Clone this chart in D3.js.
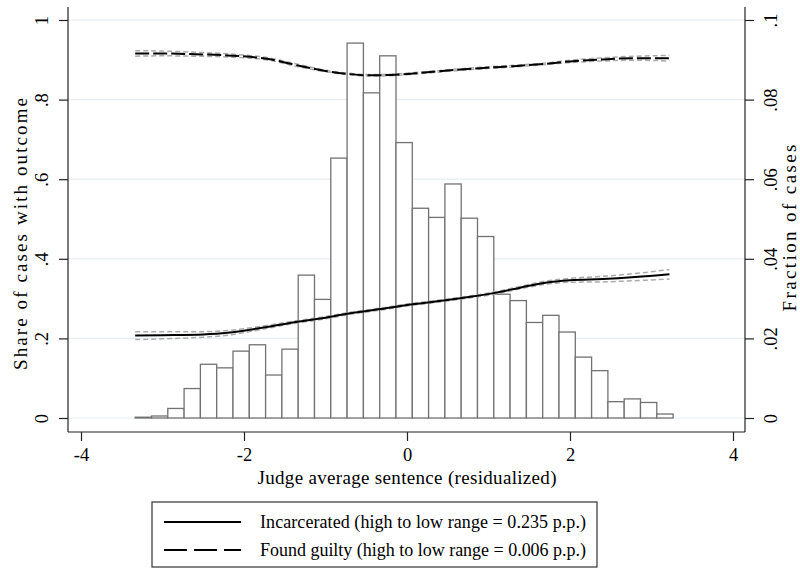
<!DOCTYPE html>
<html>
<head>
<meta charset="utf-8">
<script src="https://cdn.jsdelivr.net/npm/d3@7"></script>
<style>
  html, body { margin: 0; padding: 0; background: #fff; }
  svg { display: block; }
  text { font-family: "Liberation Serif", "Times New Roman", serif; fill: #000; }
</style>
</head>
<body>
<svg id="chart" width="800" height="572"></svg>
<script>
// ---------- data ----------
const binStarts = [-3.335,-3.135,-2.935,-2.735,-2.535,-2.335,-2.135,-1.935,-1.735,-1.535,-1.335,-1.135,-0.935,-0.735,-0.535,-0.335,-0.135,0.065,0.265,0.465,0.665,0.865,1.065,1.265,1.465,1.665,1.865,2.065,2.265,2.465,2.665,2.865,3.065];
const binWidth = 0.2;
const fraction = [0.0002,0.0005,0.0024,0.0074,0.0135,0.0126,0.0168,0.0184,0.0108,0.0173,0.0359,0.0298,0.0653,0.0942,0.0817,0.0910,0.0692,0.0527,0.0504,0.0588,0.0502,0.0456,0.0311,0.0295,0.0240,0.0258,0.0216,0.0153,0.0119,0.0041,0.0048,0.0039,0.0010];

const incX  = [-3.335,-3.0,-2.5,-2.2,-1.8,-1.4,-1.0,-0.7,-0.35,0.0,0.4,0.8,1.1,1.4,1.7,2.0,2.4,2.8,3.22];
const incY  = [0.207,0.208,0.210,0.214,0.226,0.240,0.252,0.263,0.273,0.284,0.294,0.305,0.315,0.328,0.340,0.346,0.349,0.354,0.361];
const incHi = [0.217,0.217,0.217,0.220,0.230,0.243,0.255,0.2655,0.2755,0.2865,0.2965,0.3075,0.318,0.331,0.344,0.351,0.356,0.363,0.373];
const incLo = [0.197,0.199,0.203,0.208,0.222,0.237,0.249,0.2605,0.2705,0.2815,0.2915,0.3025,0.312,0.325,0.336,0.341,0.342,0.345,0.349];

const gX  = [-3.335,-3.0,-2.6,-2.2,-1.7,-1.3,-1.0,-0.7,-0.45,-0.2,0.1,0.5,0.9,1.3,1.7,2.0,2.4,2.8,3.22];
const gY  = [0.916,0.916,0.914,0.911,0.902,0.884,0.872,0.864,0.861,0.862,0.866,0.873,0.879,0.884,0.890,0.896,0.901,0.904,0.904];
const gHi = [0.923,0.922,0.919,0.915,0.905,0.887,0.874,0.866,0.863,0.864,0.868,0.875,0.881,0.886,0.892,0.899,0.905,0.909,0.911];
const gLo = [0.909,0.910,0.909,0.907,0.899,0.881,0.870,0.862,0.859,0.860,0.864,0.871,0.877,0.882,0.888,0.893,0.897,0.899,0.897];

const xTicks = [-4,-2,0,2,4];
const xTickLabels = ["-4","-2","0","2","4"];
const yLeftTicks = [0,0.2,0.4,0.6,0.8,1];
const yLeftLabels = ["0",".2",".4",".6",".8","1"];
const yRightTicks = [0,0.02,0.04,0.06,0.08,0.1];
const yRightLabels = ["0",".02",".04",".06",".08",".1"];

const legendLabels = ["Incarcerated (high to low range = 0.235 p.p.)","Found guilty (high to low range = 0.006 p.p.)"];

// ---------- layout ----------
const svg = d3.select("#chart");
const plotL = 68, plotR = 745, plotT = 7, plotB = 432;
const x = d3.scaleLinear().domain([-4,4]).range([81,733]);
const yL = d3.scaleLinear().domain([0,1]).range([418,20]);
const yR = d3.scaleLinear().domain([0,0.1]).range([418,20]);

// gridlines
svg.append("g").selectAll("line").data(yLeftTicks).join("line")
  .attr("x1", plotL).attr("x2", plotR)
  .attr("y1", d => yL(d)).attr("y2", d => yL(d))
  .attr("stroke", "#e6edf1").attr("stroke-width", 1.2);

// histogram
svg.append("g").selectAll("rect").data(fraction).join("rect")
  .attr("x", (d,i) => x(binStarts[i]))
  .attr("width", (d,i) => x(binStarts[i] + binWidth) - x(binStarts[i]))
  .attr("y", d => yR(d))
  .attr("height", d => yR(0) - yR(d))
  .attr("fill", "#fff").attr("stroke", "#727272").attr("stroke-width", 1.3);

// lines
function mkLine(xs, ys) {
  return d3.line().x((d,i) => x(xs[i])).y(d => yL(d)).curve(d3.curveMonotoneX)(ys);
}
const ciStyle = p => p.attr("fill","none").attr("stroke","#ababab").attr("stroke-width",1.5).attr("stroke-dasharray","5,3");
[[incX,incHi],[incX,incLo],[gX,gHi],[gX,gLo]].forEach(([xs,ys]) => {
  svg.append("path").attr("d", mkLine(xs, ys)).call(ciStyle);
});
svg.append("path").attr("d", mkLine(incX, incY))
  .attr("fill","none").attr("stroke","#000").attr("stroke-width",2);
svg.append("path").attr("d", mkLine(gX, gY))
  .attr("fill","none").attr("stroke","#000").attr("stroke-width",2).attr("stroke-dasharray","14,4");

// axes
const axisColor = "#222";
const gl = svg.append("g").attr("transform", `translate(${plotL},0)`)
  .call(d3.axisLeft(yL).tickValues(yLeftTicks).tickFormat((d,i)=>yLeftLabels[i]).tickSize(9).tickSizeOuter(0));
const gr = svg.append("g").attr("transform", `translate(${plotR},0)`)
  .call(d3.axisRight(yR).tickValues(yRightTicks).tickFormat((d,i)=>yRightLabels[i]).tickSize(9).tickSizeOuter(0));
const gb = svg.append("g").attr("transform", `translate(0,${plotB})`)
  .call(d3.axisBottom(x).tickValues(xTicks).tickFormat((d,i)=>xTickLabels[i]).tickSize(9).tickSizeOuter(0));
[gl,gr,gb].forEach(g => {
  g.select(".domain").remove();
  g.selectAll(".tick line").attr("stroke", axisColor).attr("stroke-width", 1.2);
  g.selectAll("text").attr("font-family", "Liberation Serif, serif").attr("font-size", 18.5).attr("fill", "#000");
});
gl.selectAll(".tick text").attr("x", null).attr("dy", null)
  .attr("text-anchor","middle").attr("dominant-baseline","central")
  .attr("transform","translate(-26,0) rotate(-90)");
gr.selectAll(".tick text").attr("x", null).attr("dy", null)
  .attr("text-anchor","middle").attr("dominant-baseline","central")
  .attr("transform","translate(26,0) rotate(-90)");
gb.selectAll(".tick text").attr("y", null).attr("dy", null)
  .attr("dominant-baseline","central").attr("transform","translate(0,23)");

// axis lines
svg.append("line").attr("x1",plotL).attr("x2",plotL).attr("y1",plotT).attr("y2",plotB).attr("stroke",axisColor).attr("stroke-width",1.2);
svg.append("line").attr("x1",plotR).attr("x2",plotR).attr("y1",plotT).attr("y2",plotB).attr("stroke",axisColor).attr("stroke-width",1.2);
svg.append("line").attr("x1",plotL).attr("x2",plotR).attr("y1",plotB).attr("y2",plotB).attr("stroke",axisColor).attr("stroke-width",1.2);

// titles
svg.append("text").text("Share of cases with outcome")
  .attr("text-anchor","middle").attr("dominant-baseline","central")
  .attr("font-size",19).attr("textLength",272)
  .attr("transform","translate(20,234) rotate(-90)");
svg.append("text").text("Fraction of cases")
  .attr("text-anchor","middle").attr("dominant-baseline","central")
  .attr("font-size",19).attr("textLength",167)
  .attr("transform","translate(789,228) rotate(-90)");
svg.append("text").text("Judge average sentence (residualized)")
  .attr("x",407).attr("y",477)
  .attr("text-anchor","middle").attr("dominant-baseline","central")
  .attr("font-size",19).attr("textLength",299);

// legend
const lg = svg.append("g");
lg.append("rect").attr("x",152).attr("y",502).attr("width",445).attr("height",65)
  .attr("fill","#fff").attr("stroke","#333").attr("stroke-width",1.2);
const legY = [522, 550];
const legDash = [null, "23,7"];
legendLabels.forEach((lab,i) => {
  const ln = lg.append("line").attr("x1",164).attr("x2",241).attr("y1",legY[i]).attr("y2",legY[i])
    .attr("stroke","#000").attr("stroke-width",2);
  if (legDash[i]) ln.attr("stroke-dasharray", legDash[i]);
  lg.append("text").text(lab).attr("x",260).attr("y",legY[i])
    .attr("dominant-baseline","central").attr("font-size",18).attr("textLength",326);
});
</script>
</body>
</html>
